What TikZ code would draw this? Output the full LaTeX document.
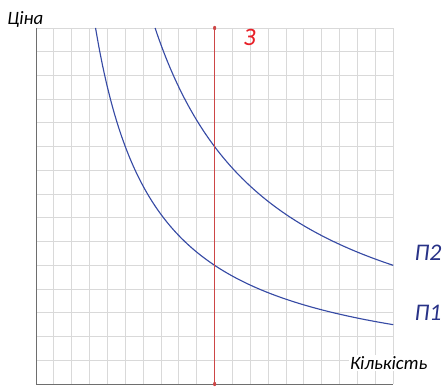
\documentclass[tikz,border=0pt]{standalone}
\usepackage{fontspec}
\setmainfont{Carlito}
\usetikzlibrary{arrows.meta}
\definecolor{gridgray}{RGB}{217,217,217}
\definecolor{axisgray}{RGB}{110,110,110}
\definecolor{zline}{RGB}{205,70,70}
\definecolor{zred}{RGB}{232,32,40}
\definecolor{curve}{RGB}{55,75,165}
\definecolor{navy}{RGB}{40,50,135}

\begin{document}
\begin{tikzpicture}[x=0.5cm, y=0.6644cm, font=\itshape, >=Latex,
  gridline/.style={gridgray, line width=0.7pt},
  axisline/.style={axisgray, line width=0.8pt},
  demand/.style={curve, line width=0.9pt, smooth, samples=80},
  axislabel/.style={font=\itshape\fontsize{15}{17}\selectfont},
  curvelabel/.style={color=navy, font=\itshape\fontsize{19}{22}\selectfont}]
\useasboundingbox (-2.016,-0.084) rectangle (22.73,16.18);
\def\xmax{20}
\def\ymax{15}

% ---- grid ----
\foreach \i in {1,...,20}{
  \draw[gridline] (\i,0) -- (\i,\ymax);
}
\foreach \j in {1,...,15}{
  \draw[gridline] (0,\j) -- (\xmax,\j);
}

% ---- axes ----
\coordinate (O) at (0,0);
\coordinate (ytop) at (0,\ymax);
\coordinate (xend) at (\xmax,0);
\draw[axisline] (ytop) -- (O) -- (xend);

% ---- demand curves ----
\draw[demand, domain=3.333:20] plot (\x,{50/\x});   % П1
\draw[demand, domain=6.667:20] plot (\x,{100/\x});  % П2

% ---- fixed stock line ----
\coordinate (zlow) at (10,0);
\coordinate (zhigh) at (10,\ymax);
\draw[zline, line width=0.8pt] (zlow) -- (zhigh);
\fill[zline] (zhigh) circle (0.09);
\fill[zline] (zlow) circle (0.09);

% ---- labels ----
\node[axislabel] (price) at (-0.6,15.35) {Ціна};
\node[axislabel, fill=white, inner sep=1pt] (qty) at (19.75,0.88) {Кількість};
\node[color=zred, font=\itshape\fontsize{20}{22}\selectfont] (zlab) at (11.95,14.6) {З};
\node[curvelabel] (p2lab) at (21.95,5.55) {П2};
\node[curvelabel] (p1lab) at (21.95,3.0) {П1};
\end{tikzpicture}
\end{document}
